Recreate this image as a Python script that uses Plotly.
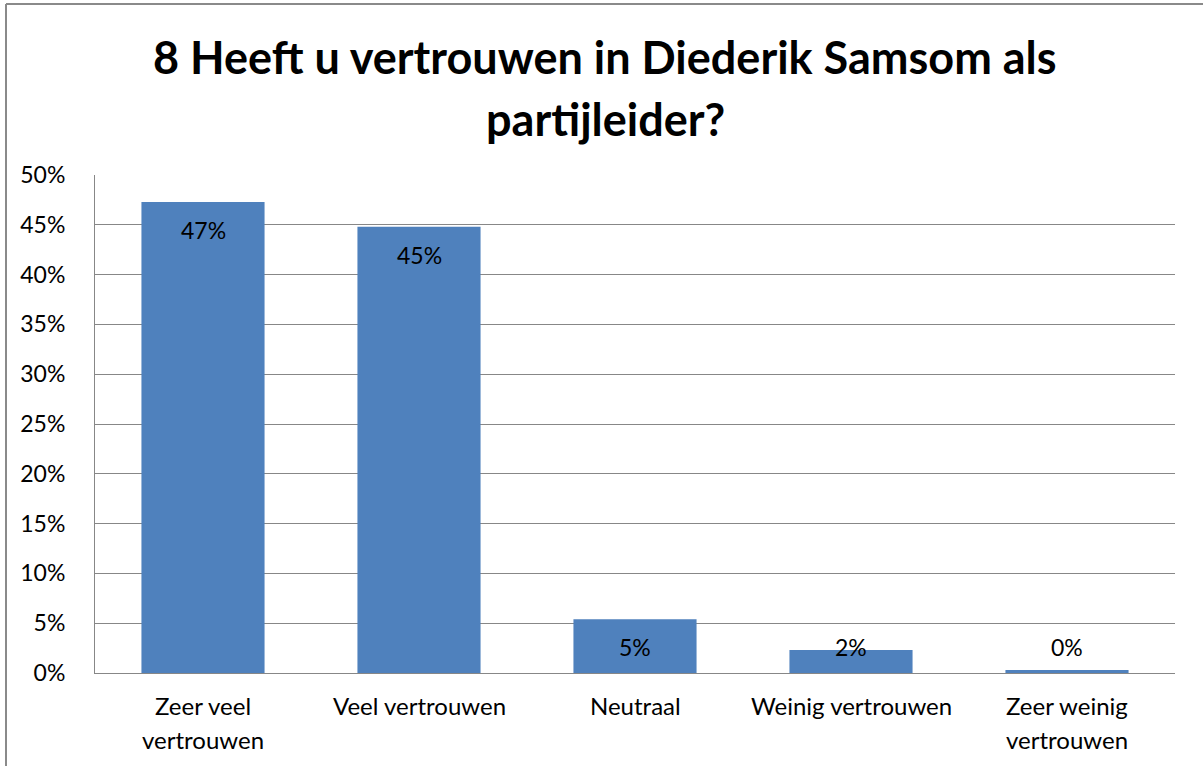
import plotly.graph_objects as go

categories = ["Zeer veel vertrouwen", "Veel vertrouwen", "Neutraal", "Weinig vertrouwen", "Zeer weinig vertrouwen"]
category_lines = [["Zeer veel", "vertrouwen"], ["Veel vertrouwen"], ["Neutraal"], ["Weinig vertrouwen"], ["Zeer weinig", "vertrouwen"]]
values = [0.473, 0.448, 0.054, 0.023, 0.003]
value_labels = ["47%", "45%", "5%", "2%", "0%"]
tick_vals = [0, 0.05, 0.10, 0.15, 0.20, 0.25, 0.30, 0.35, 0.40, 0.45, 0.50]
tick_text = ["0%", "5%", "10%", "15%", "20%", "25%", "30%", "35%", "40%", "45%", "50%"]
title_lines = ["8 Heeft u vertrouwen in Diederik Samsom als", "partijleider?"]

FONT = "Lato"
GRID = "#878787"

fig = go.Figure(go.Bar(x=categories, y=values, marker=dict(color="#4F81BD", line=dict(width=0)),
                       hoverinfo="skip"))

annotations = []
# title, one annotation per line
for i, ln in enumerate(title_lines):
    annotations.append(dict(x=0.5 - 30 / 1080, y=1, xref="paper", yref="paper", text="<b>%s</b>" % ln,
                            showarrow=False, yanchor="middle", yshift=(175 - 57) - 62 * i,
                            font=dict(family=FONT, size=45, color="black")))
# data labels: inside end, with a minimum height for short bars
for c, v, t in zip(categories, values, value_labels):
    annotations.append(dict(x=c, y=max(v, 0.054), xref="x", yref="y", text=t, showarrow=False,
                            yanchor="middle", yshift=-28, font=dict(family=FONT, size=23, color="black")))
# category labels, one annotation per line
for c, lines in zip(categories, category_lines):
    for i, ln in enumerate(lines):
        annotations.append(dict(x=c, y=0, xref="x", yref="paper", text=ln, showarrow=False,
                                yanchor="middle", yshift=-32 - 34 * i,
                                font=dict(family=FONT, size=24, color="black")))

fig.update_layout(
    width=1203, height=766,
    margin=dict(l=95, r=28, t=175, b=93),
    paper_bgcolor="white", plot_bgcolor="white",
    bargap=0.43,
    showlegend=False,
    xaxis=dict(showticklabels=False, showgrid=False, showline=True, linecolor=GRID, linewidth=1,
               ticks="", zeroline=False),
    yaxis=dict(range=[0, 0.5], tickvals=tick_vals, ticktext=tick_text, showgrid=True, gridcolor=GRID,
               gridwidth=1, showline=True, linecolor=GRID, linewidth=1, zeroline=False, ticks="",
               ticklabelstandoff=24, tickfont=dict(family=FONT, size=23, color="black")),
    annotations=annotations,
    shapes=[
        dict(type="line", xref="paper", yref="paper", x0=(6 - 95) / 1080, x1=(6 - 95) / 1080,
             y0=-1, y1=1 + (175 - 4) / 498, line=dict(color="#8A8A8A", width=2)),
        dict(type="line", xref="paper", yref="paper", x0=(6 - 95) / 1080, x1=1.2,
             y0=1 + (175 - 4) / 498, y1=1 + (175 - 4) / 498, line=dict(color="#8A8A8A", width=2)),
    ],
)

fig.write_html("out.html", config={"displayModeBar": False},
               post_script="document.body.style.margin='0';document.body.style.overflow='hidden';")
